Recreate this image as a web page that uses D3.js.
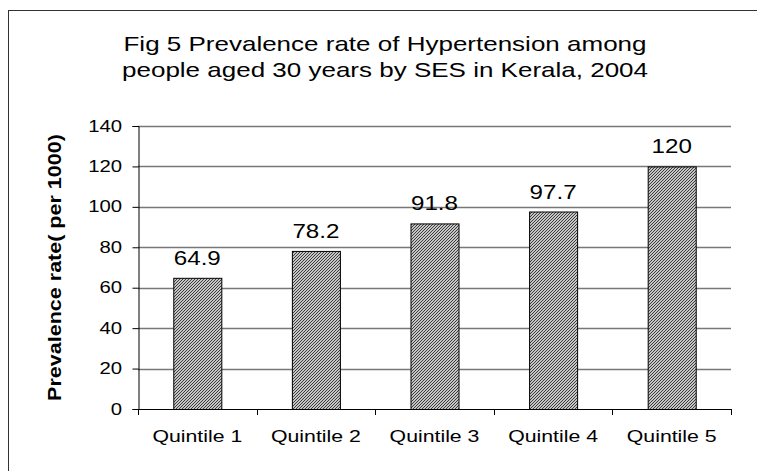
<!DOCTYPE html>
<html><head><meta charset="utf-8">
<script src="https://cdn.jsdelivr.net/npm/d3@7"></script>
<style>body{margin:0;background:#fff}svg{display:block}text{font-family:"Liberation Sans",Arial,sans-serif;fill:#000}</style>
</head><body>
<script>
const categories = ["Quintile 1","Quintile 2","Quintile 3","Quintile 4","Quintile 5"];
const values = [64.9, 78.2, 91.8, 97.7, 120];
const valueLabels = ["64.9","78.2","91.8","97.7","120"];
const yTicks = [0,20,40,60,80,100,120,140];
const titleLines = ["Fig 5 Prevalence rate of Hypertension among","people aged 30 years by SES in Kerala, 2004"];
const yTitle = "Prevalence rate( per 1000)";

const W=757,H=471;
const svg=d3.select("body").append("svg").attr("width",W).attr("height",H);
const defs=svg.append("defs");
const pat=defs.append("pattern").attr("id","hatch").attr("patternUnits","userSpaceOnUse").attr("width",3).attr("height",3);
pat.append("rect").attr("width",3).attr("height",3).attr("fill","#fff");
pat.append("path").attr("d","M-1,1 l2,-2 M0,3 l3,-3 M2,4 l2,-2").attr("stroke","#333").attr("stroke-width",1.1);

// outer frame
svg.append("rect").attr("x",8.5).attr("y",10.5).attr("width",W+20).attr("height",H+20).attr("fill","none").attr("stroke","#333").attr("stroke-width",1);

const x0=138,x1=731,y0=409,y1=126;
const x=d3.scaleBand().domain(categories).range([x0,x1]).paddingInner(0.595).paddingOuter(0.2975);
const xb=d3.scaleBand().domain(categories).range([x0,x1]);
const y=d3.scaleLinear().domain([0,140]).range([y0,y1]);

// title
titleLines.forEach((t,i)=>{
  svg.append("text").attr("transform",`translate(385,${51+i*25.5}) scale(1.3,1)`).attr("text-anchor","middle").attr("font-size",20).text(t);
});

// gridlines
svg.append("g").selectAll("line").data(yTicks.filter(d=>d>0)).join("line")
  .attr("x1",x0).attr("x2",x1).attr("y1",d=>Math.round(y(d))+0.5).attr("y2",d=>Math.round(y(d))+0.5)
  .attr("stroke","#777").attr("stroke-width",1.3);

// y axis
const ya=svg.append("g").attr("transform",`translate(${x0+0.5},0)`).call(d3.axisLeft(y).tickValues(yTicks).tickSize(6).tickPadding(10));
ya.select(".domain").attr("stroke","#000");
ya.selectAll(".tick line").attr("stroke","#000");
ya.selectAll(".tick text").remove();
svg.append("g").selectAll("text").data(yTicks).join("text")
  .attr("transform",d=>`translate(122,${y(d)+5.5}) scale(1.27,1)`).attr("text-anchor","end").attr("font-size",16).text(d=>d);

// bars
svg.append("g").selectAll("rect").data(values).join("rect")
  .attr("x",(d,i)=>x(categories[i])+0.5).attr("width",x.bandwidth())
  .attr("y",d=>y(d)+0.5).attr("height",d=>y0-y(d))
  .attr("fill","url(#hatch)").attr("stroke","#000").attr("stroke-width",1);

// x axis
svg.append("line").attr("x1",x0).attr("x2",x1).attr("y1",y0+0.5).attr("y2",y0+0.5).attr("stroke","#000");
svg.append("g").selectAll("line").data(categories.map(c=>xb(c)).concat([x1])).join("line")
  .attr("x1",d=>Math.round(d)+0.5).attr("x2",d=>Math.round(d)+0.5).attr("y1",y0).attr("y2",y0+6).attr("stroke","#000");
svg.append("g").selectAll("text").data(categories).join("text")
  .attr("transform",d=>`translate(${xb(d)+xb.bandwidth()/2},442) scale(1.33,1)`).attr("text-anchor","middle").attr("font-size",16).text(d=>d);

// value labels
svg.append("g").selectAll("text").data(values).join("text")
  .attr("transform",(d,i)=>`translate(${x(categories[i])+x.bandwidth()/2},${y(d)-13}) scale(1.15,1)`).attr("text-anchor","middle").attr("font-size",21).text((d,i)=>valueLabels[i]);

// y title
svg.append("text").attr("transform",`translate(61,${(y0+y1)/2}) rotate(-90) scale(1.23,1)`).attr("text-anchor","middle").attr("font-size",17.5).attr("font-weight","bold").text(yTitle);
</script>
</body></html>
